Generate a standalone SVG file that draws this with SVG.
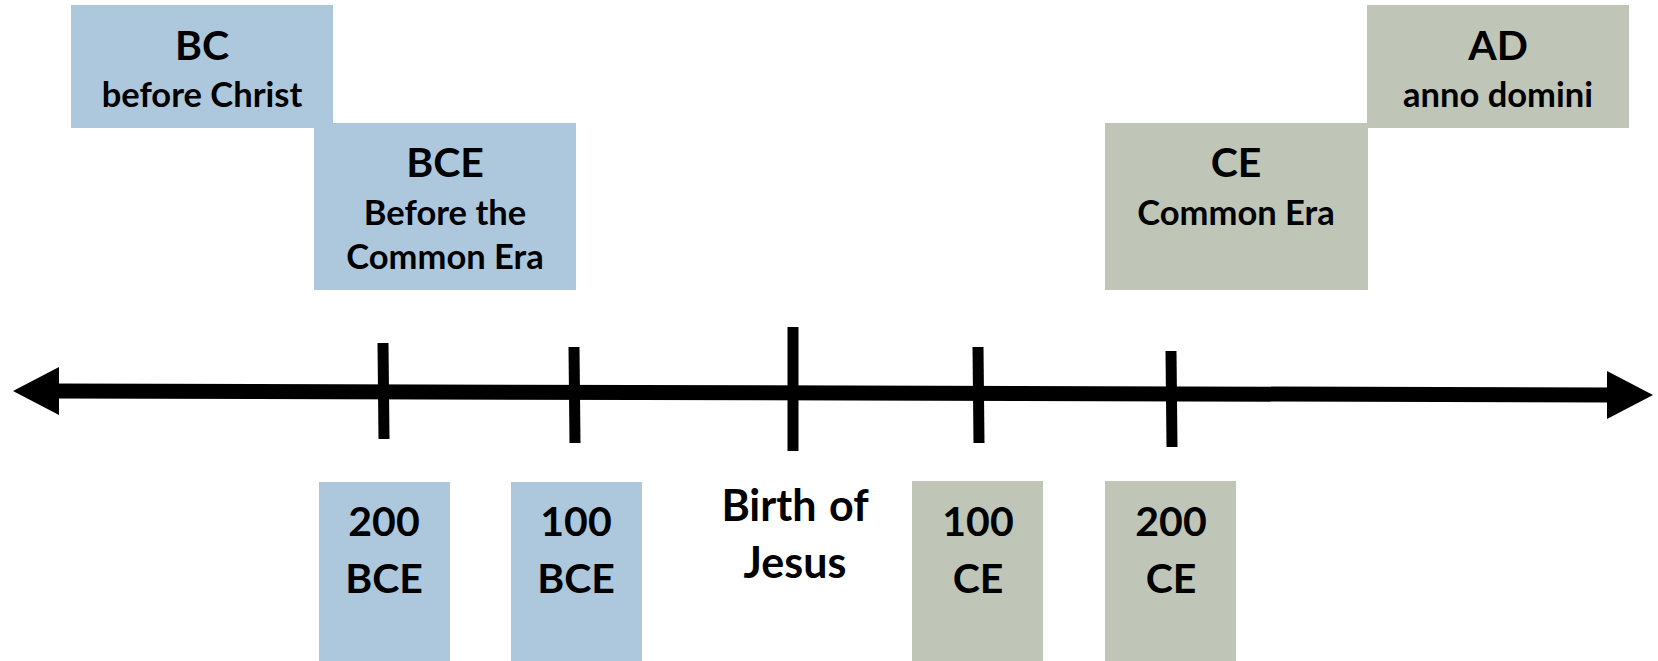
<svg xmlns="http://www.w3.org/2000/svg" width="1658" height="661" viewBox="0 0 1658 661">
<style>
.bc{fill:#adc7dc}
.ad{fill:#bfc5b7}
text{font-family:Lato,"Liberation Sans",sans-serif;font-weight:700;fill:#000;text-anchor:middle}
.t{font-size:41px}
.s{font-size:34.5px}
.w{word-spacing:2px;font-size:43px}
.axis{stroke:#000;stroke-width:15;fill:none}
.tick{stroke:#000;stroke-width:11}
</style>
<rect width="1658" height="661" fill="#fff"/>
<g id="bc">
<rect class="bc" x="71" y="5" width="262" height="123"/>
<text class="t" x="202" y="60">BC</text>
<text class="s" x="202" y="107">before Christ</text>
</g>
<g id="bce">
<rect class="bc" x="314" y="123" width="262" height="167"/>
<text class="t" x="445" y="177">BCE</text>
<text class="s" x="445" y="225">Before the</text>
<text class="s" x="445" y="269">Common Era</text>
</g>
<g id="ce">
<rect class="ad" x="1105" y="123" width="263" height="167"/>
<text class="t" x="1236" y="177">CE</text>
<text class="s" x="1236" y="225">Common Era</text>
</g>
<g id="ad">
<rect class="ad" x="1367" y="5" width="262" height="123"/>
<text class="t" x="1498" y="60">AD</text>
<text class="s" x="1498" y="107">anno domini</text>
</g>
<g id="connectors">
<line class="axis" x1="55" y1="391" x2="1612" y2="395"/>
<polygon points="13,391 59,367 59,415" fill="#000"/>
<polygon points="1653,395 1607,371 1607,419" fill="#000"/>
<line class="tick" x1="383" y1="343" x2="384" y2="439"/>
<line class="tick" x1="574" y1="347" x2="575" y2="443"/>
<line class="tick" x1="793" y1="327" x2="793" y2="451"/>
<line class="tick" x1="978" y1="347" x2="979" y2="443"/>
<line class="tick" x1="1171" y1="351" x2="1172" y2="447"/>
</g>
<g id="y200bce">
<rect class="bc" x="319" y="482" width="131" height="179"/>
<text class="t" x="384" y="536">200</text>
<text class="t" x="384" y="593">BCE</text>
</g>
<g id="y100bce">
<rect class="bc" x="511" y="482" width="131" height="179"/>
<text class="t" x="576" y="536">100</text>
<text class="t" x="576" y="593">BCE</text>
</g>
<g id="birth">
<text class="w" x="795" y="521">Birth of</text>
<text class="w" x="795" y="578">Jesus</text>
</g>
<g id="y100ce">
<rect class="ad" x="912" y="481" width="131" height="180"/>
<text class="t" x="978" y="536">100</text>
<text class="t" x="978" y="593">CE</text>
</g>
<g id="y200ce">
<rect class="ad" x="1105" y="481" width="131" height="180"/>
<text class="t" x="1171" y="536">200</text>
<text class="t" x="1171" y="593">CE</text>
</g>
</svg>
